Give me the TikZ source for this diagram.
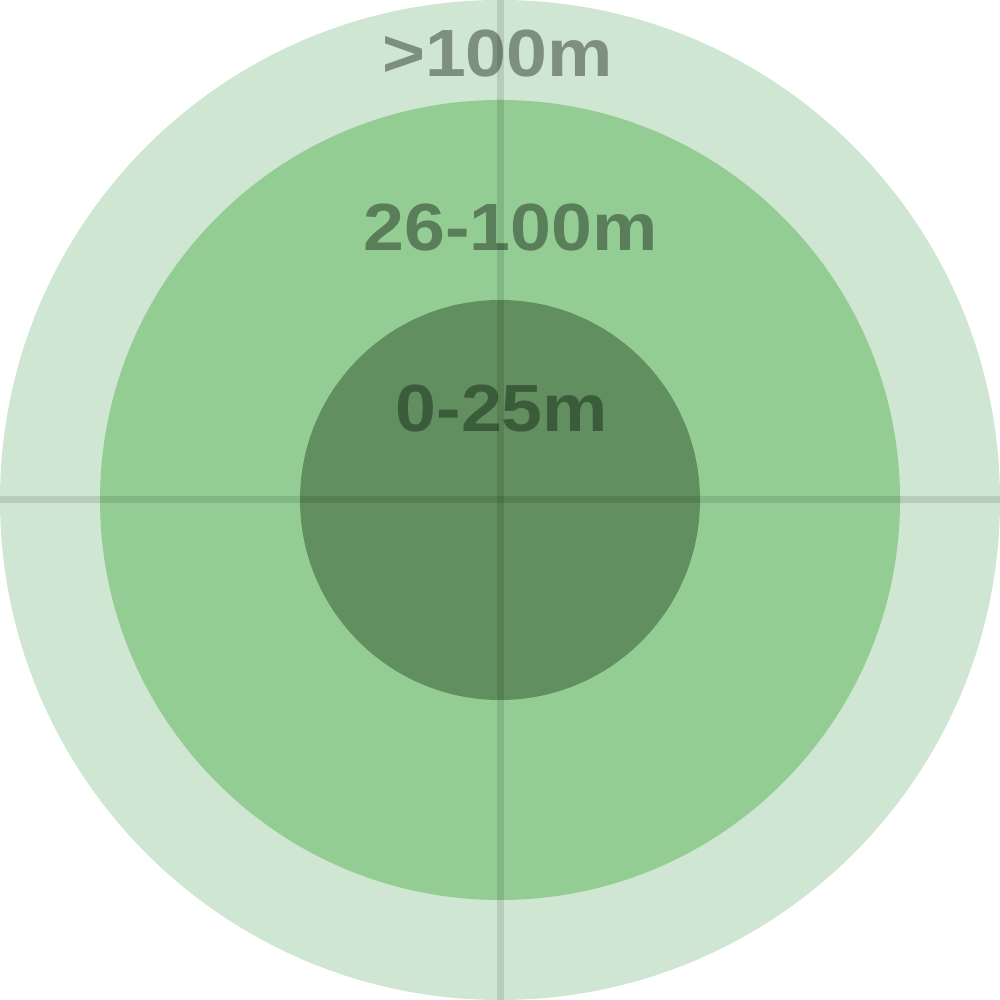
\documentclass[tikz,border=0pt]{standalone}
\usepackage{fontspec}
\setmainfont{Liberation Sans}
\definecolor{ringouter}{HTML}{CEE6D2}
\definecolor{ringmid}{HTML}{93CD93}
\definecolor{ringinner}{HTML}{628F5F}
\definecolor{txtouter}{HTML}{7E8F80}
\definecolor{txtmid}{HTML}{5A7D5A}
\definecolor{txtinner}{HTML}{3B5C3A}
\begin{document}
\begin{tikzpicture}[
  lbl/.style={inner sep=0pt, anchor=base, font=\fontsize{19pt}{19pt}\selectfont\bfseries, xscale=1.1},
  cross/.style={draw=black, draw opacity=0.11, line width=0.07cm}
]
\useasboundingbox (0,0) rectangle (10,10);
\fill[ringouter] (5,5) circle (5);
\fill[ringmid] (5,5) circle (4);
\fill[ringinner] (5,5) circle (2);
\node[lbl, text=txtouter] (t1) at (4.975,9.23) {>100m};
\node[lbl, text=txtmid] (t2) at (5.105,7.49) {26-100m};
\node[lbl, text=txtinner] (t3) at (5.02,5.68) {0-25m};
\coordinate (top) at (5,10);
\coordinate (bot) at (5,0);
\coordinate (lft) at (0,5);
\coordinate (rgt) at (10,5);
\draw[cross] (top) -- (bot);
\draw[cross] (lft) -- (rgt);
\end{tikzpicture}
\end{document}
